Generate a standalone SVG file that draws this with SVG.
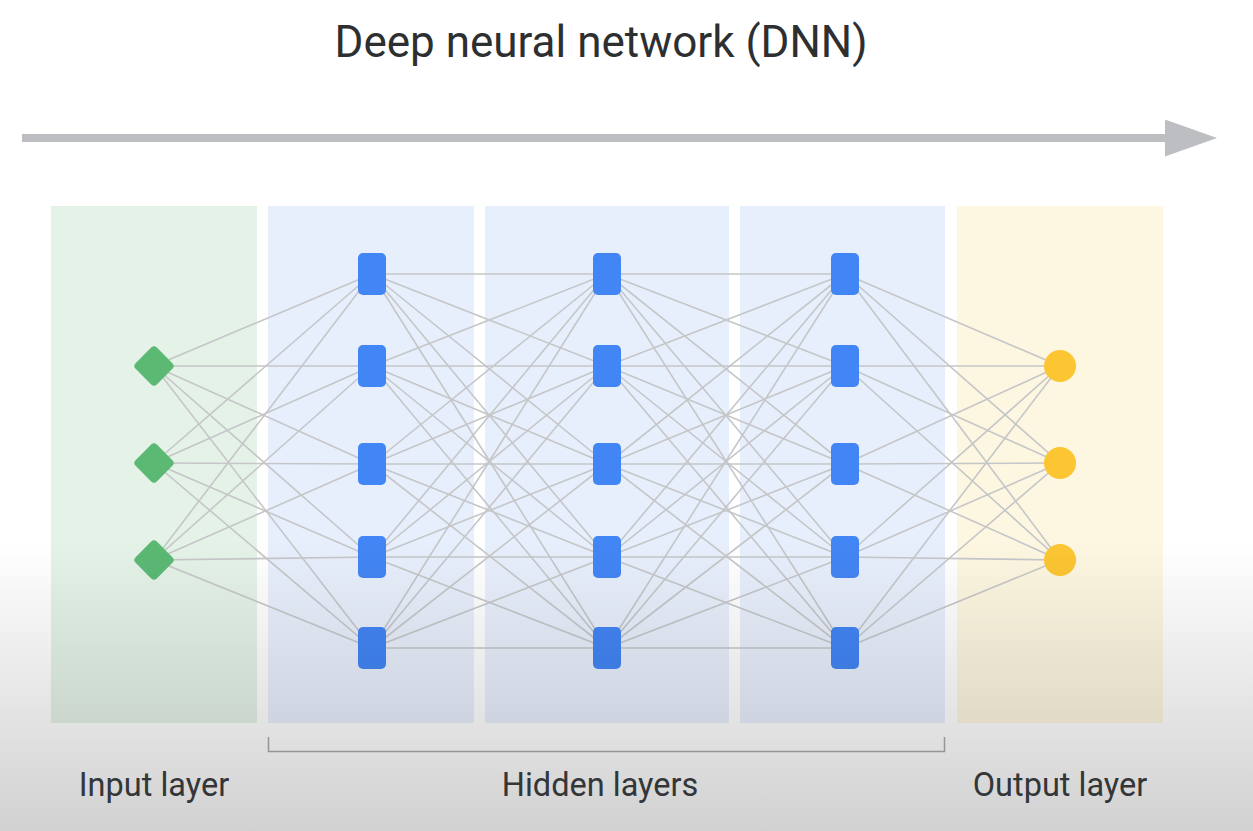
<svg xmlns="http://www.w3.org/2000/svg" width="1253" height="831" viewBox="0 0 1253 831">
<defs>
<style>
.t{font-family:Roboto,"Open Sans","Liberation Sans",sans-serif;fill:#2d2f31}
.lbl{font-size:32.5px;text-anchor:middle;fill:#3c4043}
.c line{stroke:#c5c6c8;stroke-width:1.6}
.h{fill:#4285f4}
.in{fill:#5bb974}
.out{fill:#fcc633}
</style>
<linearGradient id="shade" x1="0" y1="0" x2="0" y2="1">
<stop offset="0" stop-color="#000" stop-opacity="0"/>
<stop offset="1" stop-color="#000" stop-opacity="0.18"/>
</linearGradient>
<marker id="ah" markerWidth="52" markerHeight="37" refX="0" refY="18.5" markerUnits="userSpaceOnUse" orient="auto">
<path d="M0,0 L52,18.5 L0,37 Z" fill="#bdbec2"/>
</marker>
</defs>
<rect width="1253" height="831" fill="#fff"/>
<text class="t" x="601" y="57" font-size="44" text-anchor="middle">Deep neural network (DNN)</text>
<line x1="22" y1="138" x2="1165" y2="138" stroke="#bdbec2" stroke-width="8" marker-end="url(#ah)"/>
<g id="panels">
<rect x="51" y="206" width="206" height="517" fill="#e4f2e7"/>
<rect x="268" y="206" width="206" height="517" fill="#e8effc"/>
<rect x="485" y="206" width="244" height="517" fill="#e8effc"/>
<rect x="740" y="206" width="205" height="517" fill="#e8effc"/>
<rect x="957" y="206" width="206" height="517" fill="#fdf6e0"/>
</g>
<g id="connectors" class="c">
<line x1="154" y1="366" x2="372" y2="274"/><line x1="154" y1="366" x2="372" y2="366"/><line x1="154" y1="366" x2="372" y2="464"/><line x1="154" y1="366" x2="372" y2="557"/><line x1="154" y1="366" x2="372" y2="648"/>
<line x1="154" y1="463" x2="372" y2="274"/><line x1="154" y1="463" x2="372" y2="366"/><line x1="154" y1="463" x2="372" y2="464"/><line x1="154" y1="463" x2="372" y2="557"/><line x1="154" y1="463" x2="372" y2="648"/>
<line x1="154" y1="560" x2="372" y2="274"/><line x1="154" y1="560" x2="372" y2="366"/><line x1="154" y1="560" x2="372" y2="464"/><line x1="154" y1="560" x2="372" y2="557"/><line x1="154" y1="560" x2="372" y2="648"/>
<line x1="372" y1="274" x2="607" y2="274"/><line x1="372" y1="274" x2="607" y2="366"/><line x1="372" y1="274" x2="607" y2="464"/><line x1="372" y1="274" x2="607" y2="557"/><line x1="372" y1="274" x2="607" y2="648"/>
<line x1="372" y1="366" x2="607" y2="274"/><line x1="372" y1="366" x2="607" y2="366"/><line x1="372" y1="366" x2="607" y2="464"/><line x1="372" y1="366" x2="607" y2="557"/><line x1="372" y1="366" x2="607" y2="648"/>
<line x1="372" y1="464" x2="607" y2="274"/><line x1="372" y1="464" x2="607" y2="366"/><line x1="372" y1="464" x2="607" y2="464"/><line x1="372" y1="464" x2="607" y2="557"/><line x1="372" y1="464" x2="607" y2="648"/>
<line x1="372" y1="557" x2="607" y2="274"/><line x1="372" y1="557" x2="607" y2="366"/><line x1="372" y1="557" x2="607" y2="464"/><line x1="372" y1="557" x2="607" y2="557"/><line x1="372" y1="557" x2="607" y2="648"/>
<line x1="372" y1="648" x2="607" y2="274"/><line x1="372" y1="648" x2="607" y2="366"/><line x1="372" y1="648" x2="607" y2="464"/><line x1="372" y1="648" x2="607" y2="557"/><line x1="372" y1="648" x2="607" y2="648"/>
<line x1="607" y1="274" x2="845" y2="274"/><line x1="607" y1="274" x2="845" y2="366"/><line x1="607" y1="274" x2="845" y2="464"/><line x1="607" y1="274" x2="845" y2="557"/><line x1="607" y1="274" x2="845" y2="648"/>
<line x1="607" y1="366" x2="845" y2="274"/><line x1="607" y1="366" x2="845" y2="366"/><line x1="607" y1="366" x2="845" y2="464"/><line x1="607" y1="366" x2="845" y2="557"/><line x1="607" y1="366" x2="845" y2="648"/>
<line x1="607" y1="464" x2="845" y2="274"/><line x1="607" y1="464" x2="845" y2="366"/><line x1="607" y1="464" x2="845" y2="464"/><line x1="607" y1="464" x2="845" y2="557"/><line x1="607" y1="464" x2="845" y2="648"/>
<line x1="607" y1="557" x2="845" y2="274"/><line x1="607" y1="557" x2="845" y2="366"/><line x1="607" y1="557" x2="845" y2="464"/><line x1="607" y1="557" x2="845" y2="557"/><line x1="607" y1="557" x2="845" y2="648"/>
<line x1="607" y1="648" x2="845" y2="274"/><line x1="607" y1="648" x2="845" y2="366"/><line x1="607" y1="648" x2="845" y2="464"/><line x1="607" y1="648" x2="845" y2="557"/><line x1="607" y1="648" x2="845" y2="648"/>
<line x1="845" y1="274" x2="1060" y2="366"/><line x1="845" y1="274" x2="1060" y2="463"/><line x1="845" y1="274" x2="1060" y2="560"/>
<line x1="845" y1="366" x2="1060" y2="366"/><line x1="845" y1="366" x2="1060" y2="463"/><line x1="845" y1="366" x2="1060" y2="560"/>
<line x1="845" y1="464" x2="1060" y2="366"/><line x1="845" y1="464" x2="1060" y2="463"/><line x1="845" y1="464" x2="1060" y2="560"/>
<line x1="845" y1="557" x2="1060" y2="366"/><line x1="845" y1="557" x2="1060" y2="463"/><line x1="845" y1="557" x2="1060" y2="560"/>
<line x1="845" y1="648" x2="1060" y2="366"/><line x1="845" y1="648" x2="1060" y2="463"/><line x1="845" y1="648" x2="1060" y2="560"/>
</g>
<g id="input-nodes">
<rect id="i1" class="in" x="139" y="351" width="30" height="30" rx="4" transform="rotate(45 154 366)"/>
<rect id="i2" class="in" x="139" y="448" width="30" height="30" rx="4" transform="rotate(45 154 463)"/>
<rect id="i3" class="in" x="139" y="545" width="30" height="30" rx="4" transform="rotate(45 154 560)"/>
</g>
<g id="hidden1">
<rect class="h" x="358" y="253" width="28" height="42" rx="5"/>
<rect class="h" x="358" y="345" width="28" height="42" rx="5"/>
<rect class="h" x="358" y="443" width="28" height="42" rx="5"/>
<rect class="h" x="358" y="536" width="28" height="42" rx="5"/>
<rect class="h" x="358" y="627" width="28" height="42" rx="5"/>
</g>
<g id="hidden2">
<rect class="h" x="593" y="253" width="28" height="42" rx="5"/>
<rect class="h" x="593" y="345" width="28" height="42" rx="5"/>
<rect class="h" x="593" y="443" width="28" height="42" rx="5"/>
<rect class="h" x="593" y="536" width="28" height="42" rx="5"/>
<rect class="h" x="593" y="627" width="28" height="42" rx="5"/>
</g>
<g id="hidden3">
<rect class="h" x="831" y="253" width="28" height="42" rx="5"/>
<rect class="h" x="831" y="345" width="28" height="42" rx="5"/>
<rect class="h" x="831" y="443" width="28" height="42" rx="5"/>
<rect class="h" x="831" y="536" width="28" height="42" rx="5"/>
<rect class="h" x="831" y="627" width="28" height="42" rx="5"/>
</g>
<g id="output-nodes">
<circle class="out" cx="1060" cy="366" r="16"/>
<circle class="out" cx="1060" cy="463" r="16"/>
<circle class="out" cx="1060" cy="560" r="16"/>
</g>
<path id="bracket" d="M268.5,737 V751.5 H944.5 V737" fill="none" stroke="#a9abae" stroke-width="1.5"/>
<text class="t lbl" x="154" y="796">Input layer</text>
<text class="t lbl" x="600" y="796">Hidden layers</text>
<text class="t lbl" x="1060" y="796">Output layer</text>
<rect x="0" y="540" width="1253" height="291" fill="url(#shade)"/>
</svg>
